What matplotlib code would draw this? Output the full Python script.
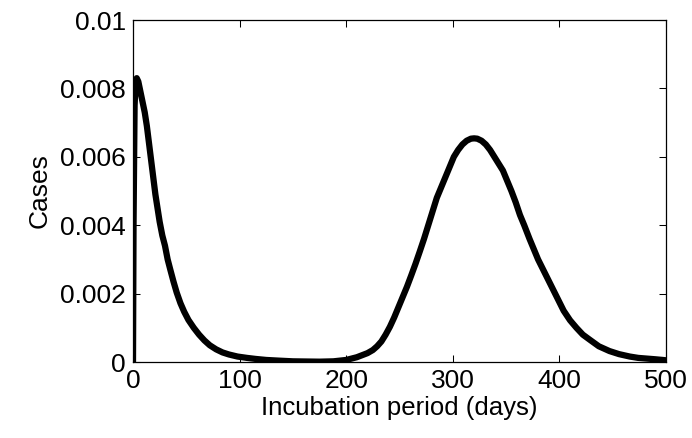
import matplotlib
matplotlib.use("Agg")
import matplotlib.pyplot as plt

# values
days = [0, 0.5, 1.5, 2.5, 3.5, 5, 7, 9, 11, 13, 15, 17, 19, 21, 23, 25,
        27.5, 30, 32.5, 35, 38, 41, 44.5, 48, 52, 57, 62, 67, 72, 78, 84,
        90, 98, 107, 115, 125, 137, 150, 162, 175, 188, 200, 205, 210, 215,
        220, 225, 229, 233, 237, 241, 245, 249, 253, 257, 261, 265, 269,
        273, 277, 281, 285, 289, 293, 297, 301, 305, 309, 313, 317, 320,
        323, 327, 331, 335, 339, 343, 347, 351, 355, 359, 363, 367, 372,
        376, 380, 384, 388, 392, 396, 400, 404, 410, 416, 422, 429, 437,
        447, 456, 466, 474, 482, 490, 497, 500]
cases = [0, 0.0040, 0.0075, 0.0082, 0.0083, 0.0082, 0.0079, 0.0076, 0.0073,
         0.0069, 0.0064, 0.0059, 0.0054, 0.0049, 0.0045, 0.0041, 0.0037,
         0.0034, 0.0030, 0.0027, 0.00235, 0.00203, 0.00172, 0.00147,
         0.00123, 0.0010, 0.0008, 0.00063, 0.00049, 0.00037, 0.00028,
         0.00022, 0.00016, 0.00012, 0.00009, 0.00006, 0.00004, 0.00002,
         0.000015, 0.00001, 0.00002, 0.00006, 0.0001, 0.00014, 0.0002,
         0.00026, 0.00035, 0.00046, 0.0006, 0.0008, 0.00103, 0.0013, 0.0016,
         0.0019, 0.0022, 0.00253, 0.00287, 0.00323, 0.0036, 0.0040, 0.0044,
         0.0048, 0.0051, 0.0054, 0.0057, 0.0060, 0.0062, 0.00636, 0.00647,
         0.00653, 0.00654, 0.00653, 0.00647, 0.00636, 0.0062, 0.0060,
         0.0058, 0.0056, 0.0053, 0.0050, 0.00467, 0.0043, 0.0040, 0.0036,
         0.0033, 0.0030, 0.00275, 0.0025, 0.00225, 0.0020, 0.00175, 0.0015,
         0.00122, 0.0010, 0.0008, 0.00064, 0.00046, 0.00032, 0.00023,
         0.00016, 0.00012, 0.0001, 0.00008, 0.00006, 0.00005]

x_ticks = [0, 100, 200, 300, 400, 500]
y_ticks = [0, 0.002, 0.004, 0.006, 0.008, 0.01]
y_tick_labels = ["0", "0.002", "0.004", "0.006", "0.008", "0.01"]

plt.rcParams["font.family"] = ["Liberation Sans", "DejaVu Sans"]

fig = plt.figure(figsize=(6.92, 4.38), dpi=100)
ax = fig.add_axes([0.1922, 0.1735, 0.7702, 0.7808])

ax.plot(days, cases, color="black", linewidth=4.5, solid_joinstyle="round",
        solid_capstyle="round")

ax.set_xlim(0, 500)
ax.set_ylim(0, 0.01)
ax.set_xticks(x_ticks)
ax.set_yticks(y_ticks)
ax.set_yticklabels(y_tick_labels)
ax.tick_params(direction="in", length=5, width=0.75, top=True, right=True,
               labelsize=19, pad=5)
for spine in ax.spines.values():
    spine.set_linewidth(0.9)

ax.set_xlabel("Incubation period (days)", fontsize=18.5, labelpad=2)
ax.set_ylabel("Cases", fontsize=19, labelpad=6)

fig.savefig("out.png", dpi=100)
